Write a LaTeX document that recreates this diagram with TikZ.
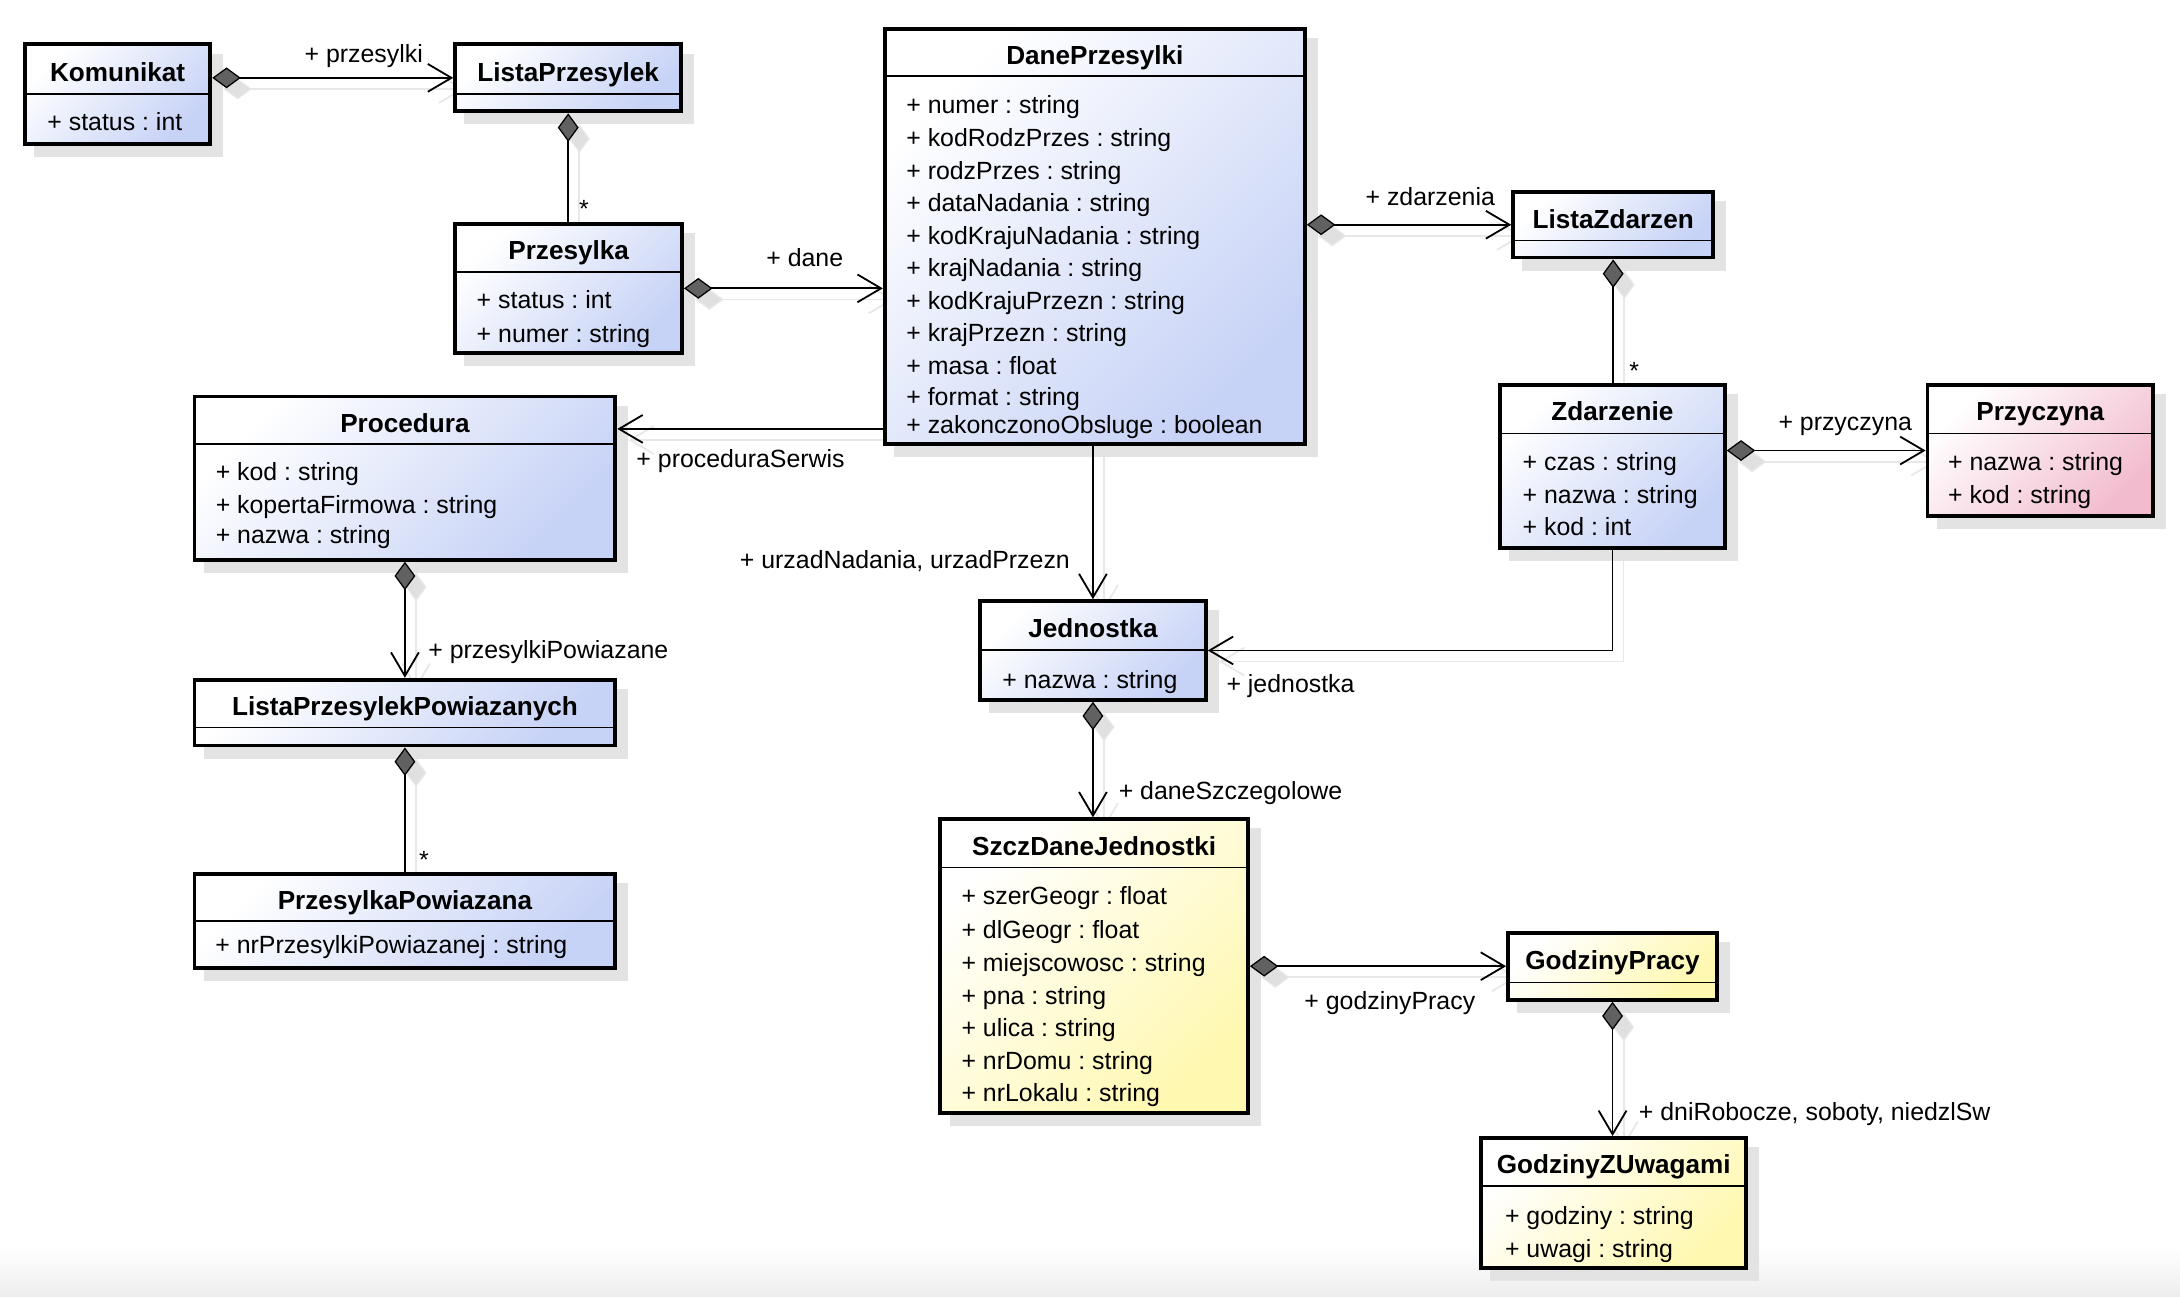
\documentclass[tikz,border=0pt]{standalone}
\usepackage{fontspec}
\setmainfont{Liberation Sans}
\usetikzlibrary{arrows.meta}
\pgfdeclarelayer{bg}
\pgfsetlayers{bg,main}
\frenchspacing
\definecolor{cblue}{RGB}{198,210,246}
\definecolor{cyellow}{RGB}{255,248,176}
\definecolor{cpink}{RGB}{242,188,206}
\tikzset{
  classbox/.style={draw=black, line width=2.8pt, inner sep=0pt},
  boxshadow/.style={fill=black!11},
  divline/.style={line width=1.2pt},
  ttl/.style={font=\fontsize{18.8}{21}\selectfont\bfseries, inner sep=0pt, text height=13.4pt, text depth=0pt},
  attr/.style={font=\fontsize{17.9}{20}\selectfont\frenchspacing, inner sep=0pt, anchor=west, text height=12.9pt, text depth=0pt},
  conn/.style={line width=1.3pt, draw=black},
  connsh/.style={line width=1.3pt, draw=black!9},
  cda/.style={arrows={{Diamond[length=20.5pt,width=15pt,line width=0.9pt,fill=black!62]}-{Straight Barb[length=17pt,width=20pt]}}},
  cdaS/.style={arrows={{Diamond[length=20.5pt,width=15pt,line width=0.9pt,fill=black!12]}-{Straight Barb[length=17pt,width=20pt]}}},
  cd/.style={arrows={{Diamond[length=20.5pt,width=15pt,line width=0.9pt,fill=black!62]}-}},
  cdS/.style={arrows={{Diamond[length=20.5pt,width=15pt,line width=0.9pt,fill=black!12]}-}},
  ca/.style={arrows={-{Straight Barb[length=17pt,width=20pt]}}},
  caS/.style={arrows={-{Straight Barb[length=17pt,width=20pt]}}}
}
% #1 name #2 x1 #3 y1 #4 x2 #5 y2 #6 ydiv #7 colour #8 title
\newcommand\umlclass[8]{%
  \begin{pgfonlayer}{bg}
    \fill[boxshadow] (#2+8,#3+8) rectangle (#4+8,#5+8);
  \end{pgfonlayer}
  \node[classbox, top color=white, bottom color=#7, shading angle=45,
        minimum width={(#4-#2-2.8)*1pt}, minimum height={(#5-#3-2.8)*1pt},
        anchor=north west] (#1) at (#2,#3) {};
  \draw[divline] (#2+1.4,#6) -- (#4-1.4,#6);
  \node[ttl] (#1-t) at ({(#2+#4)/2},{(#3+#6)/2+2.6}) {#8};
}
% #1 style #2 shadow style #3 path
\newcommand\umlconn[3]{%
  \begin{pgfonlayer}{bg}
    \draw[connsh, #2, transform canvas={shift={(8,8)}}] #3;
  \end{pgfonlayer}
  \draw[conn, #1] #3;
}
\begin{document}
\begin{tikzpicture}[x=1pt,y=-1pt]
\begin{pgfonlayer}{bg}
  \fill[white] (0,0) rectangle (1568,932.2);
  \shade[top color=white,bottom color=black!7] (0,897) rectangle (1568,932.2);
\end{pgfonlayer}
\useasboundingbox (0,0) rectangle (1568,932.2);

% classes
\umlclass{kom}{16.5}{30.5}{152.7}{105}{67.8}{cblue}{Komunikat}
\umlclass{lp}{326}{30.5}{491.4}{81.5}{67.8}{cblue}{ListaPrzesylek}
\umlclass{prz}{326}{159.5}{492}{255.3}{195.4}{cblue}{Przesylka}
\umlclass{dp}{635}{19.3}{940}{320.7}{54.5}{cblue}{DanePrzesylki}
\umlclass{lz}{1087}{136.7}{1233.6}{186.6}{173}{cblue}{ListaZdarzen}
\umlclass{zd}{1077.5}{275.3}{1242}{395.6}{311.7}{cblue}{Zdarzenie}
\umlclass{prc}{1385}{275.3}{1550}{372.8}{311.7}{cpink}{Przyczyna}
\umlclass{proc}{138.5}{283.8}{444}{404}{319.3}{cblue}{Procedura}
\umlclass{lpp}{138.5}{487.5}{444}{537.6}{523.3}{cblue}{ListaPrzesylekPowiazanych}
\umlclass{pp}{138.5}{627}{444}{697.7}{662.3}{cblue}{PrzesylkaPowiazana}
\umlclass{jed}{703.5}{431}{868.7}{504.7}{467.5}{cblue}{Jednostka}
\umlclass{szd}{675}{587.9}{899}{802}{623.9}{cyellow}{SzczDaneJednostki}
\umlclass{gp}{1083.3}{669.4}{1236.4}{720.5}{706.6}{cyellow}{GodzinyPracy}
\umlclass{gzu}{1064}{817.1}{1257.4}{913.5}{853.1}{cyellow}{GodzinyZUwagami}

% attributes
\node[attr] (kom-1) at (33.9,87.5) {+ status : int};
\node[attr] (prz-1) at (342.7,215.1) {+ status : int};
\node[attr] (prz-2) at (342.7,239.7) {+ numer : string};
\node[attr] (dp-1) at (651.7,74.9) {+ numer : string};
\node[attr] (dp-2) at (651.7,99.1) {+ kodRodzPrzes : string};
\node[attr] (dp-3) at (651.7,122.5) {+ rodzPrzes : string};
\node[attr] (dp-4) at (651.7,145.9) {+ dataNadania : string};
\node[attr] (dp-5) at (651.7,169.3) {+ kodKrajuNadania : string};
\node[attr] (dp-6) at (651.7,192.7) {+ krajNadania : string};
\node[attr] (dp-7) at (651.7,216) {+ kodKrajuPrzezn : string};
\node[attr] (dp-8) at (651.7,239.5) {+ krajPrzezn : string};
\node[attr] (dp-9) at (651.7,262.9) {+ masa : float};
\node[attr] (dp-10) at (651.7,284.9) {+ format : string};
\node[attr] (dp-11) at (651.7,305.6) {+ zakonczonoObsluge : boolean};
\node[attr] (zd-1) at (1095,332) {+ czas : string};
\node[attr] (zd-2) at (1095,356) {+ nazwa : string};
\node[attr] (zd-3) at (1095,378.9) {+ kod : int};
\node[attr] (prc-1) at (1401,332) {+ nazwa : string};
\node[attr] (prc-2) at (1401,355.6) {+ kod : string};
\node[attr] (proc-1) at (155,339.4) {+ kod : string};
\node[attr] (proc-2) at (155,362.8) {+ kopertaFirmowa : string};
\node[attr] (proc-3) at (155,384.8) {+ nazwa : string};
\node[attr] (pp-1) at (154.7,679) {+ nrPrzesylkiPowiazanej : string};
\node[attr] (jed-1) at (720.8,488.6) {+ nazwa : string};
\node[attr] (szd-1) at (691.4,643.8) {+ szerGeogr : float};
\node[attr] (szd-2) at (691.4,668.5) {+ dlGeogr : float};
\node[attr] (szd-3) at (691.4,692.2) {+ miejscowosc : string};
\node[attr] (szd-4) at (691.4,715.7) {+ pna : string};
\node[attr] (szd-5) at (691.4,738.9) {+ ulica : string};
\node[attr] (szd-6) at (691.4,762.5) {+ nrDomu : string};
\node[attr] (szd-7) at (691.4,785.7) {+ nrLokalu : string};
\node[attr] (gzu-1) at (1082.3,874) {+ godziny : string};
\node[attr] (gzu-2) at (1082.3,897.9) {+ uwagi : string};

% connectors
\coordinate (dpw) at ([yshift=12.2pt]dp.south west);
\umlconn{cda}{cdaS}{(kom.east |- lp.west) -- (lp.west)}
\umlconn{cd}{cdS}{(lp.south) -- (lp.south |- prz.north)}
\umlconn{cda}{cdaS}{(prz.east) -- (prz.east -| dp.west)}
\umlconn{cda}{cdaS}{(lz.west -| dp.east) -- (lz.west)}
\umlconn{cd}{cdS}{(lz.south) -- (lz.south |- zd.north)}
\umlconn{cda}{cdaS}{(prc.west -| zd.east) -- (prc.west)}
\umlconn{ca}{caS}{(dpw) -- (dpw -| proc.east)}
\umlconn{ca}{caS}{(jed.north |- dp.south) -- (jed.north)}
\umlconn{ca}{caS}{(zd.south) -- (zd.south |- jed.east) -- (jed.east)}
\umlconn{cda}{cdaS}{(proc.south) -- (proc.south |- lpp.north)}
\umlconn{cd}{cdS}{(lpp.south) -- (lpp.south |- pp.north)}
\umlconn{cda}{cdaS}{(jed.south) -- (jed.south |- szd.north)}
\umlconn{cda}{cdaS}{(gp.west -| szd.east) -- (gp.west)}
\umlconn{cda}{cdaS}{(gp.south) -- (gp.south |- gzu.north)}

% labels
\node[attr] (l-przesylki) at (218.9,38.4) {+ przesylki};
\node[attr, anchor=center] (m-1) at (420,150) {*};
\node[attr] (l-dane) at (551,185) {+ dane};
\node[attr] (l-zdarzenia) at (982,141.7) {+ zdarzenia};
\node[attr, anchor=center] (m-2) at (1175.5,266.5) {*};
\node[attr] (l-przyczyna) at (1279,303) {+ przyczyna};
\node[attr] (l-proc) at (457.6,329.8) {+ proceduraSerwis};
\node[attr] (l-urzad) at (532,402.7) {+ urzadNadania, urzadPrzezn};
\node[attr] (l-jedn) at (882,491.5) {+ jednostka};
\node[attr] (l-ppow) at (307.9,467.4) {+ przesylkiPowiazane};
\node[attr, anchor=center] (m-3) at (305,617.9) {*};
\node[attr] (l-dsz) at (804.5,568.7) {+ daneSzczegolowe};
\node[attr] (l-gp) at (938,719.3) {+ godzinyPracy};
\node[attr] (l-dni) at (1178.6,799.6) {+ dniRobocze, soboty, niedzlSw};
\end{tikzpicture}
\end{document}
